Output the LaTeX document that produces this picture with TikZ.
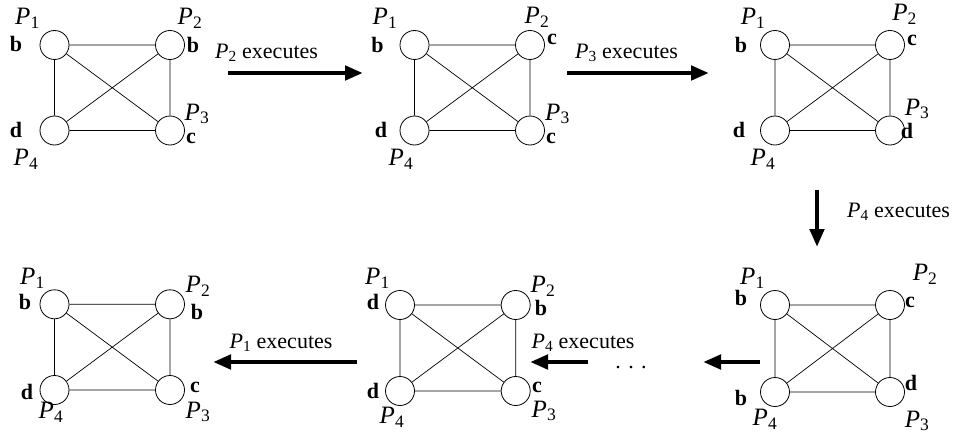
\documentclass[tikz,border=0pt]{standalone}
\usepackage{fontspec}
\setmainfont{Liberation Serif}
\usetikzlibrary{arrows.meta}
\newcommand\Pl[1]{{\itshape P}\textsubscript{#1}}
\newcommand\kfour[5]{%
  \node[proc] (#1a) at (#2,#3) {};
  \node[proc] (#1b) at (#4,#3) {};
  \node[proc] (#1c) at (#4,#5) {};
  \node[proc] (#1d) at (#2,#5) {};
  \draw[edge] (#1a)--(#1b) (#1b)--(#1c) (#1c)--(#1d) (#1d)--(#1a) (#1a)--(#1c) (#1b)--(#1d);}
\tikzset{
  proc/.style={circle, draw, minimum size=29pt, inner sep=0pt, line width=0.8pt},
  edge/.style={line width=0.7pt},
  plab/.style={font=\fontsize{25}{25}\selectfont, inner sep=0pt},
  vlab/.style={font=\fontsize{22}{22}\selectfont\bfseries, inner sep=0pt},
  exlab/.style={font=\fontsize{22}{22}\selectfont, inner sep=0pt},
  bigarrow/.style={line width=4.5pt, -{Triangle[length=18pt,width=14pt]}}
}
\begin{document}
\begin{tikzpicture}[x=1pt,y=-1pt]
\useasboundingbox (0,0) rectangle (958,436);
% graphs
\kfour{g1}{54.5}{45}{170}{130.5}
\kfour{g2}{414.5}{45}{530}{130.5}
\kfour{g3}{775}{45}{890}{130.5}
\kfour{g6}{775}{305}{890}{392}
\kfour{g5}{400}{305}{515.7}{391}
\kfour{g4}{54.5}{304.3}{170}{390}
% G1 labels
\node[plab] (g1pa) at (27.5,18) {\Pl{1}};
\node[vlab] (g1va) at (16,44) {b};
\node[plab] (g1pb) at (190,18) {\Pl{2}};
\node[vlab] (g1vb) at (193,45) {b};
\node[plab] (g1pc) at (197,114) {\Pl{3}};
\node[vlab] (g1vc) at (191,138) {c};
\node[vlab] (g1vd) at (16,130) {d};
\node[plab] (g1pd) at (26,159) {\Pl{4}};
% G2 labels
\node[plab] (g2pa) at (385,18) {\Pl{1}};
\node[vlab] (g2va) at (377.5,45) {b};
\node[plab] (g2pb) at (537,17) {\Pl{2}};
\node[vlab] (g2vb) at (552,39) {c};
\node[plab] (g2pc) at (557.5,114) {\Pl{3}};
\node[vlab] (g2vc) at (551,138) {c};
\node[vlab] (g2vd) at (381,130) {d};
\node[plab] (g2pd) at (401,159) {\Pl{4}};
% G3 labels
\node[plab] (g3pa) at (753,18) {\Pl{1}};
\node[vlab] (g3va) at (741,45) {b};
\node[plab] (g3pb) at (904.5,14) {\Pl{2}};
\node[vlab] (g3vb) at (912,40) {c};
\node[plab] (g3pc) at (917,109) {\Pl{3}};
\node[vlab] (g3vc) at (907,131) {d};
\node[vlab] (g3vd) at (739,130) {d};
\node[plab] (g3pd) at (763,159) {\Pl{4}};
% G6 labels
\node[plab] (g6pa) at (752.5,278) {\Pl{1}};
\node[vlab] (g6va) at (741,298) {b};
\node[plab] (g6pb) at (925,274) {\Pl{2}};
\node[vlab] (g6vb) at (910,302) {c};
\node[plab] (g6pc) at (917,421) {\Pl{3}};
\node[vlab] (g6vc) at (911,383) {d};
\node[vlab] (g6vd) at (741,398) {b};
\node[plab] (g6pd) at (765,419) {\Pl{4}};
% G5 labels
\node[plab] (g5pa) at (377.5,278) {\Pl{1}};
\node[vlab] (g5va) at (373,302) {d};
\node[plab] (g5pb) at (543,286) {\Pl{2}};
\node[vlab] (g5vb) at (541,308) {b};
\node[plab] (g5pc) at (544,411) {\Pl{3}};
\node[vlab] (g5vc) at (537,387) {c};
\node[vlab] (g5vd) at (373,391) {d};
\node[plab] (g5pd) at (392,417) {\Pl{4}};
% G4 labels
\node[plab] (g4pa) at (32.5,278) {\Pl{1}};
\node[vlab] (g4va) at (25,302) {b};
\node[plab] (g4pb) at (198,286) {\Pl{2}};
\node[vlab] (g4vb) at (197,312) {b};
\node[plab] (g4pc) at (198,412) {\Pl{3}};
\node[vlab] (g4vc) at (195,387) {c};
\node[vlab] (g4vd) at (27,392) {d};
\node[plab] (g4pd) at (51,412) {\Pl{4}};
% arrows
\coordinate (a1s) at (228,73); \coordinate (a1e) at (363,73);
\coordinate (a2s) at (567,73); \coordinate (a2e) at (709,73);
\coordinate (a3s) at (817,190); \coordinate (a3e) at (817,247);
\coordinate (a4s) at (760,362); \coordinate (a4e) at (703,362);
\coordinate (a5s) at (588,362); \coordinate (a5e) at (530,362);
\coordinate (a6s) at (357,362); \coordinate (a6e) at (213,362);
\draw[bigarrow] (a1s) -- (a1e);
\draw[bigarrow] (a2s) -- (a2e);
\draw[bigarrow] (a3s) -- (a3e);
\draw[bigarrow] (a4s) -- (a4e);
\draw[bigarrow] (a5s) -- (a5e);
\draw[bigarrow] (a6s) -- (a6e);
\node[exlab] (x1) at (266.5,53) {\Pl{2} executes};
\node[exlab] (x2) at (626.5,53) {\Pl{3} executes};
\node[exlab] (x3) at (898.5,212) {\Pl{4} executes};
\node[exlab] (x4) at (583,343) {\Pl{4} executes};
\node[exlab] (x5) at (281,343) {\Pl{1} executes};
\node[exlab] (dots) at (631,368) {.\,\,.\,\,.};
\end{tikzpicture}
\end{document}
